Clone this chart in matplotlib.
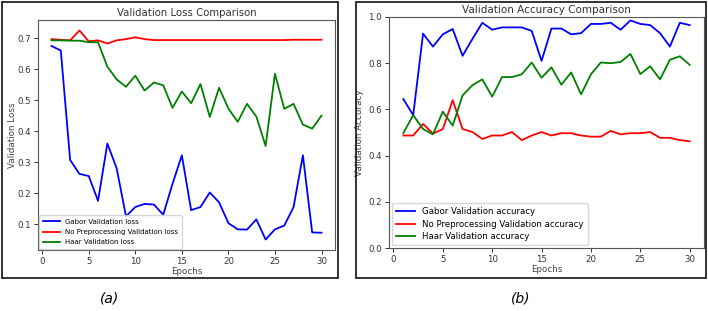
import matplotlib
matplotlib.use('Agg')
import matplotlib.pyplot as plt
from matplotlib.patches import Rectangle

epochs = list(range(1, 31))

# validation loss per epoch
gabor_loss = [0.675, 0.660, 0.307, 0.262, 0.255, 0.175, 0.360, 0.280, 0.125, 0.155,
              0.165, 0.163, 0.130, 0.230, 0.322, 0.145, 0.155, 0.202, 0.170, 0.103,
              0.083, 0.082, 0.115, 0.050, 0.083, 0.095, 0.155, 0.322, 0.073, 0.072]
noprep_loss = [0.697, 0.695, 0.693, 0.725, 0.690, 0.693, 0.683, 0.693, 0.697, 0.703,
               0.697, 0.694, 0.694, 0.694, 0.694, 0.694, 0.694, 0.694, 0.694, 0.694,
               0.694, 0.694, 0.694, 0.694, 0.694, 0.694, 0.695, 0.695, 0.695, 0.695]
haar_loss = [0.693, 0.693, 0.692, 0.692, 0.687, 0.687, 0.608, 0.567, 0.543, 0.579,
             0.531, 0.557, 0.548, 0.475, 0.528, 0.490, 0.552, 0.446, 0.540, 0.473,
             0.430, 0.488, 0.447, 0.352, 0.585, 0.472, 0.488, 0.421, 0.408, 0.450]

# validation accuracy per epoch
gabor_acc = [0.645, 0.575, 0.928, 0.872, 0.925, 0.948, 0.832, 0.905, 0.975, 0.945,
             0.955, 0.955, 0.955, 0.940, 0.810, 0.950, 0.950, 0.925, 0.930, 0.970,
             0.970, 0.975, 0.945, 0.985, 0.970, 0.965, 0.930, 0.872, 0.975, 0.965]
noprep_acc = [0.487, 0.487, 0.537, 0.495, 0.515, 0.640, 0.515, 0.502, 0.472, 0.487,
              0.487, 0.502, 0.467, 0.487, 0.502, 0.487, 0.497, 0.497, 0.487, 0.482,
              0.482, 0.507, 0.492, 0.497, 0.497, 0.502, 0.477, 0.477, 0.467, 0.462]
haar_acc = [0.497, 0.575, 0.515, 0.492, 0.590, 0.530, 0.660, 0.705, 0.730, 0.655,
            0.740, 0.740, 0.752, 0.803, 0.737, 0.782, 0.707, 0.760, 0.665, 0.752,
            0.803, 0.800, 0.805, 0.840, 0.753, 0.787, 0.730, 0.815, 0.830, 0.793]

W, H = 708, 311
fig = plt.figure(figsize=(W / 100, H / 100), dpi=100)


def px_axes(x0, y0, x1, y1):
    # pixel box (top-left origin) -> figure fraction
    return fig.add_axes([x0 / W, 1 - y1 / H, (x1 - x0) / W, (y1 - y0) / H])


def style(ax):
    for s in ax.spines.values():
        s.set_color('#555555')
        s.set_linewidth(0.8)
    ax.tick_params(labelsize=6.2, colors='#333333', length=3, width=0.7, pad=2)
    ax.xaxis.label.set_color('#444444')
    ax.yaxis.label.set_color('#444444')


# outer frames round each panel
for x0, x1 in [(1.5, 337.5), (355.5, 705.5)]:
    fig.patches.append(Rectangle((x0 / W, 1 - 277.5 / H), (x1 - x0) / W, 276 / H,
                                 transform=fig.transFigure, fill=False,
                                 edgecolor='#111111', linewidth=1.2))

ax1 = px_axes(38, 20, 335, 250)
ax1.plot(epochs, gabor_loss, color='blue', lw=1.3, label='Gabor Validation loss')
ax1.plot(epochs, noprep_loss, color='red', lw=1.3, label='No Preprocessing Validation loss')
ax1.plot(epochs, haar_loss, color='green', lw=1.3, label='Haar Validation loss')
ax1.set_title('Validation Loss Comparison', fontsize=7.3, color='#333333', pad=3)
ax1.set_xlabel('Epochs', fontsize=6.3, labelpad=1)
ax1.set_ylabel('Validation Loss', fontsize=6.3, labelpad=0)
ax1.set_xticks([0, 5, 10, 15, 20, 25, 30])
ax1.set_yticks([0.1, 0.2, 0.3, 0.4, 0.5, 0.6, 0.7])
style(ax1)
ax1.legend(loc='lower left', fontsize=5, frameon=True, borderpad=0.5,
           labelspacing=0.6, handlelength=2.4, borderaxespad=0.2)

ax2 = px_axes(389, 17, 704, 248)
ax2.plot(epochs, gabor_acc, color='blue', lw=1.3, label='Gabor Validation accuracy')
ax2.plot(epochs, noprep_acc, color='red', lw=1.3, label='No Preprocessing Validation accuracy')
ax2.plot(epochs, haar_acc, color='green', lw=1.3, label='Haar Validation accuracy')
ax2.set_ylim(0, 1)
ax2.set_title('Validation Accuracy Comparison', fontsize=7.5, color='#333333', pad=3)
ax2.set_xlabel('Epochs', fontsize=6.3, labelpad=1)
ax2.set_ylabel('Validation Accuracy', fontsize=6.3, labelpad=3)
ax2.set_xticks([0, 5, 10, 15, 20, 25, 30])
style(ax2)
ax2.legend(loc='lower left', fontsize=6.2, frameon=True, borderpad=0.5,
           labelspacing=0.4, handlelength=2.2, borderaxespad=0.3)

fig.text(110 / W, 1 - 298 / H, '(a)', fontsize=10, style='italic', ha='center', va='center')
fig.text(521 / W, 1 - 298 / H, '(b)', fontsize=10, style='italic', ha='center', va='center')

fig.savefig('out.png', dpi=100)
